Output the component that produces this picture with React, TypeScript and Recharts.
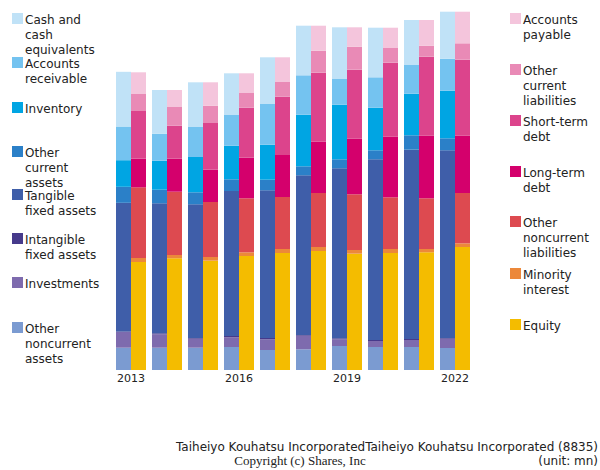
import { BarChart, Bar, XAxis, YAxis } from 'recharts';

// fiscal years
const years = ['2013', '2014', '2015', '2016', '2017', '2018', '2019', '2020', '2021', '2022'];

// assets (bottom of stack listed last)
const cash = [54.7, 43.7, 44.7, 41.7, 46.7, 49.6, 51.7, 49.6, 45, 47];
const receivables = [33.7, 27, 30, 30.7, 40.7, 39.4, 25.7, 30.4, 28.7, 32];
const inventory = [26.6, 29, 35.3, 33.6, 35, 51.6, 54.6, 42.6, 41.6, 47.6];
const otherCurrentAssets = [16, 13.6, 12, 11.7, 10.6, 9, 9, 9, 14.4, 12];
const tangibleFixed = [128.7, 130, 133.7, 145, 147.7, 159.7, 170, 180.7, 189.3, 187.7];
const intangibleFixed = [0.5, 1, 0.7, 1.3, 1.3, 0.7, 1, 1, 1, 0.7];
const investments = [15.7, 13.4, 9, 9.7, 10.7, 13.6, 6.7, 6, 7, 9.3];
const otherNoncurrentAssets = [22.3, 22.3, 22.3, 23, 20, 20.7, 24, 23, 23, 22];

// liabilities + equity
const payable = [21.7, 17, 23.4, 19.7, 24.7, 25, 19.4, 20.3, 25.7, 31.6];
const otherCurrentLiab = [17, 18.7, 17.3, 14.7, 14.7, 22, 23, 14.7, 11, 16.4];
const shortTermDebt = [47.7, 33, 46.7, 50, 58.3, 69, 69, 74, 79, 76];
const longTermDebt = [28.6, 33, 32.3, 40.6, 42, 51.3, 55.6, 60.6, 62.6, 57.3];
const otherNoncurrentLiab = [70.7, 63.3, 55, 54, 52, 54, 55.7, 51.7, 50.7, 50.3];
const minority = [4, 3.3, 3.7, 3.7, 4, 4, 3.7, 4, 3.3, 3.7];
const equity = [108, 111.7, 109.3, 114, 117, 119, 116.3, 117, 117.7, 123];

const assetSeries = [
  { key: 'ona', name: 'Other noncurrent assets', color: '#7b9bd1', values: otherNoncurrentAssets },
  { key: 'inv', name: 'Investments', color: '#7e6bae', values: investments },
  { key: 'intang', name: 'Intangible fixed assets', color: '#463a8b', values: intangibleFixed },
  { key: 'tang', name: 'Tangible fixed assets', color: '#3f5ea9', values: tangibleFixed },
  { key: 'oca', name: 'Other current assets', color: '#2b80c8', values: otherCurrentAssets },
  { key: 'invent', name: 'Inventory', color: '#00a5e3', values: inventory },
  { key: 'ar', name: 'Accounts receivable', color: '#74c3f0', values: receivables },
  { key: 'cash', name: 'Cash and cash equivalents', color: '#c0e2f7', values: cash },
];

const liabSeries = [
  { key: 'eq', name: 'Equity', color: '#f4bc00', values: equity },
  { key: 'mi', name: 'Minority interest', color: '#ec883a', values: minority },
  { key: 'onl', name: 'Other noncurrent liabilities', color: '#dd4a50', values: otherNoncurrentLiab },
  { key: 'ltd', name: 'Long-term debt', color: '#d4006c', values: longTermDebt },
  { key: 'std', name: 'Short-term debt', color: '#dc448c', values: shortTermDebt },
  { key: 'ocl', name: 'Other current liabilities', color: '#e98ab6', values: otherCurrentLiab },
  { key: 'ap', name: 'Accounts payable', color: '#f4c5dc', values: payable },
];

const data = years.map((y, i) => {
  const row: any = { year: y };
  assetSeries.forEach(s => (row[s.key] = s.values[i]));
  liabSeries.forEach(s => (row[s.key] = s.values[i]));
  return row;
});

const leftLegend = [
  { label: ['Cash and', 'cash', 'equivalents'], color: '#c0e2f7', top: 13 },
  { label: ['Accounts', 'receivable'], color: '#74c3f0', top: 57 },
  { label: ['Inventory'], color: '#00a5e3', top: 102 },
  { label: ['Other', 'current', 'assets'], color: '#2b80c8', top: 146 },
  { label: ['Tangible', 'fixed assets'], color: '#3f5ea9', top: 189 },
  { label: ['Intangible', 'fixed assets'], color: '#463a8b', top: 233 },
  { label: ['Investments'], color: '#7e6bae', top: 277 },
  { label: ['Other', 'noncurrent', 'assets'], color: '#7b9bd1', top: 322 },
];

const rightLegend = [
  { label: ['Accounts', 'payable'], color: '#f4c5dc', top: 13 },
  { label: ['Other', 'current', 'liabilities'], color: '#e98ab6', top: 64 },
  { label: ['Short-term', 'debt'], color: '#dc448c', top: 115 },
  { label: ['Long-term', 'debt'], color: '#d4006c', top: 166 },
  { label: ['Other', 'noncurrent', 'liabilities'], color: '#dd4a50', top: 216 },
  { label: ['Minority', 'interest'], color: '#ec883a', top: 268 },
  { label: ['Equity'], color: '#f4bc00', top: 319 },
];

const font = '"DejaVu Sans", sans-serif';

const LegendBlock = ({ items, left }: { items: typeof leftLegend; left: number }) => (
  <>
    {items.map(it => (
      <div key={it.label.join(' ')} style={{ position: 'absolute', left, top: it.top, display: 'flex' }}>
        <div style={{ width: 11, height: 11, background: it.color }} />
        <div style={{ marginLeft: 2, marginTop: 0, fontSize: 12, lineHeight: '15px', color: '#222', fontFamily: font }}>
          {it.label.map(l => <div key={l}>{l}</div>)}
        </div>
      </div>
    ))}
  </>
);

export default function App() {
  return (
    <div style={{ position: 'absolute', left: 0, top: 0, width: 600, height: 470, background: '#fff', overflow: 'hidden' }}>
      <BarChart
        width={600}
        height={470}
        data={data}
        margin={{ top: 10, right: 127, left: 113, bottom: 70 }}
        barCategoryGap={3}
        barGap={0}
      >
        <XAxis
          dataKey="year"
          axisLine={false}
          tickLine={false}
          tickSize={0}
          tickMargin={4}
          interval={2}
          height={30}
          tick={{ fontSize: 11, fill: '#222', fontFamily: font }}
        />
        <YAxis hide domain={[0, 360]} />
        {assetSeries.map(s => (
          <Bar key={s.key} dataKey={s.key} name={s.name} stackId="assets" fill={s.color} isAnimationActive={false} />
        ))}
        {liabSeries.map(s => (
          <Bar key={s.key} dataKey={s.key} name={s.name} stackId="liab" fill={s.color} isAnimationActive={false} />
        ))}
      </BarChart>
      <LegendBlock items={leftLegend} left={12} />
      <LegendBlock items={rightLegend} left={510} />
      <div style={{ position: 'absolute', right: 2, top: 440, fontSize: 12, color: '#222', fontFamily: font, whiteSpace: 'nowrap' }}>
        Taiheiyo Kouhatsu IncorporatedTaiheiyo Kouhatsu Incorporated (8835)
      </div>
      <div style={{ position: 'absolute', left: 0, width: 600, top: 453, textAlign: 'center', fontSize: 13, color: '#222', fontFamily: '"Liberation Serif", "Times New Roman", serif' }}>
        Copyright (c) Shares, Inc
      </div>
      <div style={{ position: 'absolute', right: 2, top: 454, fontSize: 12, color: '#222', fontFamily: font }}>
        (unit: mn)
      </div>
    </div>
  );
}
